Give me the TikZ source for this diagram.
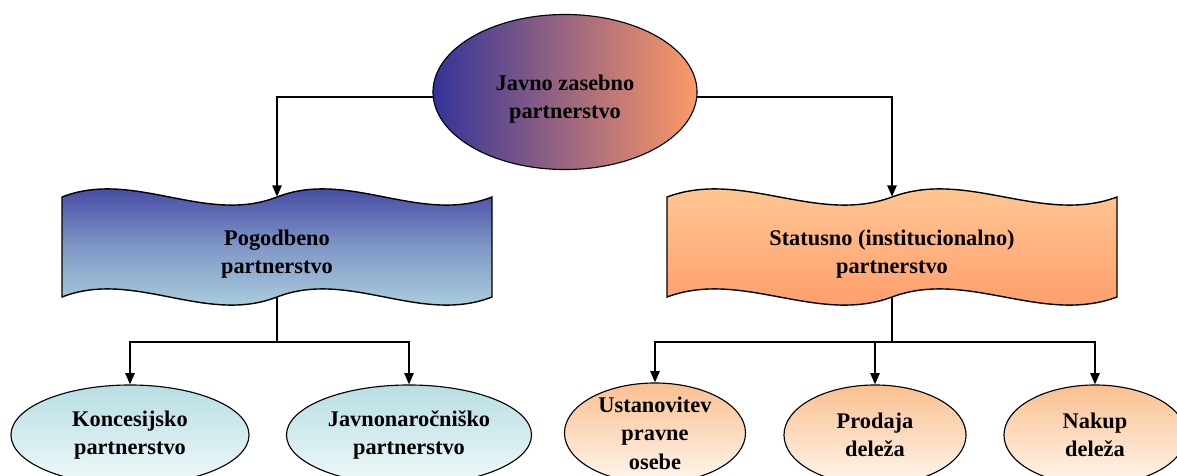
\documentclass[tikz,border=0pt]{standalone}
\usepackage{fontspec}
\setmainfont{Liberation Serif}
\usepackage{tikz}
\usetikzlibrary{shapes.geometric,arrows.meta,positioning,calc}
\definecolor{darkblue}{RGB}{51,51,153}
\definecolor{midblue}{RGB}{128,152,198}
\definecolor{paleblue}{RGB}{183,222,228}
\definecolor{iceblue}{RGB}{240,249,250}
\definecolor{mainorange}{RGB}{255,153,102}
\definecolor{lightorange}{RGB}{255,204,153}
\definecolor{peach}{RGB}{250,192,144}
\definecolor{cream}{RGB}{255,246,238}

% wavy banner: left x, top y, width, height (picture units)
\newcommand{\wavepath}[4]{%
  (#1,#2)
  .. controls ({#1+#3/6},{#2-28}) and ({#1+#3/3},{#2+28}) .. ({#1+#3/2},#2)
  .. controls ({#1+2*#3/3},{#2-28}) and ({#1+5*#3/6},{#2+28}) .. ({#1+#3},#2)
  -- ({#1+#3},{#2+#4})
  .. controls ({#1+5*#3/6},{#2+#4+28}) and ({#1+2*#3/3},{#2+#4-28}) .. ({#1+#3/2},{#2+#4})
  .. controls ({#1+#3/3},{#2+#4+28}) and ({#1+#3/6},{#2+#4-28}) .. (#1,{#2+#4})
  -- cycle}

\tikzset{
  lbl/.style={font=\fontsize{15.9}{20.3}\selectfont\bfseries, align=center},
  oval/.style={lbl, ellipse, draw, line width=0.8pt, inner sep=0pt, minimum height=2.5cm},
  ovalblue/.style={oval, top color=paleblue, bottom color=iceblue},
  ovalorange/.style={oval, top color=peach, bottom color=cream},
  banner/.style={inner sep=0pt, minimum height=2.5cm},
  arr/.style={line width=1.4pt, -{Triangle[length=8pt,width=6.5pt]}},
  bus/.style={line width=1.4pt}
}

\begin{document}
\begin{tikzpicture}[x=0.025cm, y=-0.025cm]
    \useasboundingbox (0,0) rectangle (1177,475);

    % Top
    \node[oval, minimum width=6.6cm, minimum height=3.875cm,
          left color=darkblue, right color=mainorange] (jzp) at (565,92) {};
    \node[lbl] (jzptxt) at ([yshift=-5pt]jzp.center) {Javno zasebno\\partnerstvo};

    % Banners
    \path[draw, line width=1pt, top color=darkblue, bottom color=paleblue, middle color=midblue]
        \wavepath{62}{197}{430}{100};
    \node[banner, minimum width=10.75cm] (pog) at (277,247) {};
    \node[lbl] (pogtxt) at ([yshift=-5pt]pog.center) {Pogodbeno\\partnerstvo};

    \path[draw, line width=1pt, top color=lightorange, bottom color=mainorange]
        \wavepath{667}{197}{450}{100};
    \node[banner, minimum width=11.25cm] (sta) at (892,247) {};
    \node[lbl] (statxt) at ([yshift=-5pt]sta.center) {Statusno (institucionalno)\\partnerstvo};

    % Bottom row
    \node[ovalblue, minimum width=5.95cm] (kon) at (130,435) {Koncesijsko\\partnerstvo};
    \node[ovalblue, minimum width=6.125cm] (jav) at (409,435) {Javnonaročniško\\partnerstvo};
    \node[ovalorange, minimum width=4.525cm, inner ysep=-6pt] (ust) at (655,433) {Ustanovitev\\pravne\\osebe};
    \node[ovalorange, minimum width=4.55cm] (pro) at (875,435) {Prodaja\\deleža};
    \node[ovalorange, minimum width=4.55cm] (nak) at (1095,435) {Nakup\\deleža};

    % Connectors
    \draw[arr] (jzp.182) -| (pog.north);
    \draw[arr] (jzp.358) -| (sta.north);

    \draw[bus] (pog.south) -- ++(0,45) coordinate (busL);
    \draw[arr] (busL) -| (kon.north);
    \draw[arr] (busL) -| (jav.north);

    \draw[bus] (sta.south) -- ++(0,45) coordinate (busR);
    \draw[arr] (busR) -| (ust.north);
    \draw[arr] (busR) -| (pro.north);
    \draw[arr] (busR) -| (nak.north);
\end{tikzpicture}
\end{document}
